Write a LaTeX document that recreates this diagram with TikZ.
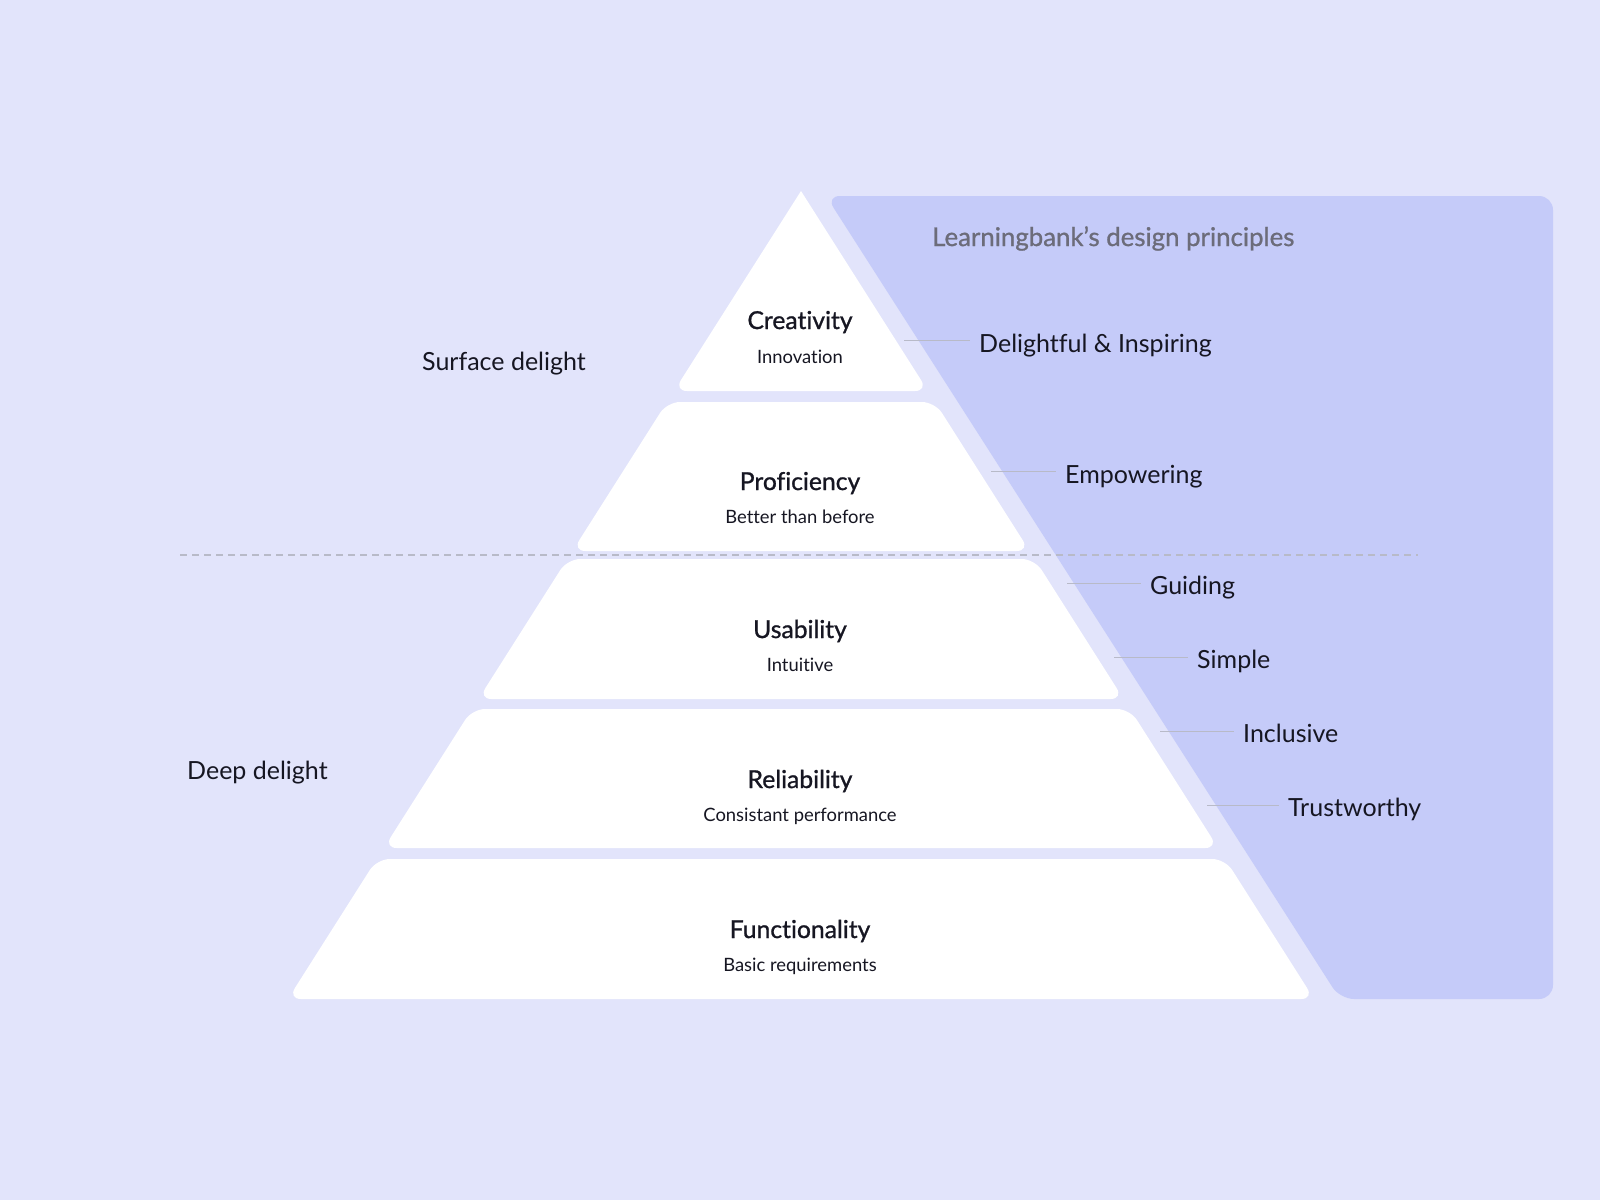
\documentclass[tikz,border=0pt]{standalone}
\usepackage{fontspec}
\setmainfont{Lato}[Ligatures={NoCommon}]
\newfontfamily\medfont{Lato}[FakeBold=1,Ligatures={NoCommon}]
\usetikzlibrary{calc}
\definecolor{lbback}{RGB}{226,228,251}
\definecolor{lbpanel}{RGB}{197,203,249}
\definecolor{lbtext}{RGB}{22,22,34}
\definecolor{lbgray}{RGB}{108,108,122}
\definecolor{lbline}{RGB}{184,186,200}

\begin{document}
\begin{tikzpicture}[x=1pt,y=-1pt,
    tier/.style={fill=white,rounded corners=13pt},
    tiername/.style={anchor=base,inner sep=0pt,text=lbtext,font=\medfont\fontsize{24.7}{28}\selectfont},
    tiersub/.style={anchor=base,inner sep=0pt,text=lbtext,font=\fontsize{18.4}{21}\selectfont},
    principle/.style={anchor=base west,inner sep=0pt,text=lbtext,font=\fontsize{25}{29}\selectfont},
    heading/.style={anchor=base west,inner sep=0pt,text=lbgray,font=\medfont\fontsize{25.8}{30}\selectfont},
    leader/.style={draw=lbline,line width=1pt,shorten >=9pt},
    divider/.style={draw=lbline,line width=1.5pt,dash pattern=on 7pt off 5pt}]
  \def\apx{801}\def\apy{191}\def\slope{0.635}
  % Fondo
  \fill[lbback] (0,0) rectangle (1600,1200);
  \useasboundingbox (0,0) rectangle (1600,1200);
  % Panel de principios
  \fill[lbpanel,rounded corners=14pt] (1190,196) -- (1553,196) -- (1553,999)
    -- (1340,999) -- (826,196) -- cycle;
  \node[heading] (head) at (932,246) {Learningbank’s design principles};
  % Punta de la piramide
  \pgfmathsetmacro{\wtip}{\slope*(391-\apy)}
  \fill[tier] (\apx,391) -- (\apx-\wtip,391) [sharp corners] -- (\apx,\apy)
    [rounded corners=13pt] -- (\apx+\wtip,391) -- cycle;
  % Niveles
  \foreach \ytop/\ybot in {402/551,559/699,709/848,859/999}{
    \pgfmathsetmacro{\wt}{\slope*(\ytop-\apy)}
    \pgfmathsetmacro{\wb}{\slope*(\ybot-\apy)}
    \fill[tier] (\apx,\ybot) -- (\apx-\wb,\ybot) -- (\apx-\wt,\ytop)
      -- (\apx+\wt,\ytop) -- (\apx+\wb,\ybot) -- cycle;
  }
  % Textos de los niveles
  \node[tiername] (crea) at (800,329) {Creativity};
  \node[tiersub] (creasub) at (800,363) {Innovation};
  \node[tiername] (prof) at (800,490) {Proficiency};
  \node[tiersub] (profsub) at (800,523) {Better than before};
  \node[tiername] (usab) at (800,638) {Usability};
  \node[tiersub] (usabsub) at (800,671) {Intuitive};
  \node[tiername] (reli) at (800,788) {Reliability};
  \node[tiersub] (relisub) at (800,821) {Consistant performance};
  \node[tiername] (func) at (800,938) {Functionality};
  \node[tiersub] (funcsub) at (800,971) {Basic requirements};
  % Niveles de deleite
  \node[principle] (surf) at (422,370) {Surface delight};
  \node[principle] (deep) at (187,779) {Deep delight};
  \draw[divider] (180,555) -- (1418,555);
  % Principios
  \node[principle] (deli) at (979,352) {Delightful \& Inspiring};
  \node[principle] (empo) at (1065,483) {Empowering};
  \node[principle] (guid) at (1150,594) {Guiding};
  \node[principle] (simp) at (1197,668) {Simple};
  \node[principle] (incl) at (1243,742) {Inclusive};
  \node[principle] (trus) at (1288,816) {Trustworthy};
  \coordinate (ldeli) at (904,340);
  \coordinate (lempo) at (991,471);
  \coordinate (lguid) at (1067,583);
  \coordinate (lsimp) at (1114,657);
  \coordinate (lincl) at (1160,731);
  \coordinate (ltrus) at (1207,805);
  \draw[leader] (ldeli) -- (ldeli -| deli.west);
  \draw[leader] (lempo) -- (lempo -| empo.west);
  \draw[leader] (lguid) -- (lguid -| guid.west);
  \draw[leader] (lsimp) -- (lsimp -| simp.west);
  \draw[leader] (lincl) -- (lincl -| incl.west);
  \draw[leader] (ltrus) -- (ltrus -| trus.west);
\end{tikzpicture}
\end{document}
